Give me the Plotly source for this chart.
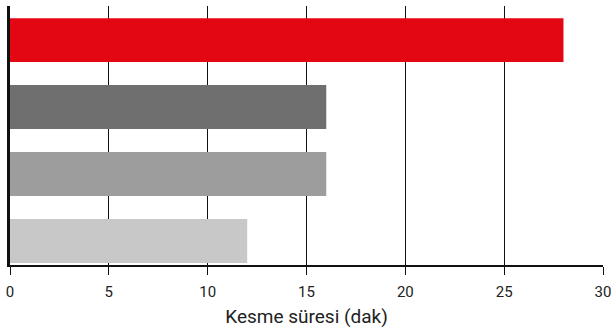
import plotly.graph_objs as go

categories = ['A', 'B', 'C', 'D']
values = [28, 16, 16, 12]
colors = ['#e30613', '#6f6f6f', '#9d9d9d', '#c8c8c8']

data = [go.Bar(y=categories, x=values, orientation='h',
               marker=dict(color=colors, line=dict(width=0)))]

layout = go.Layout(
    width=611, height=331,
    margin=dict(l=10, r=8, t=6, b=66),
    paper_bgcolor='white', plot_bgcolor='white',
    bargap=0.343,
    showlegend=False,
    font=dict(family='Roboto', size=15, color='#222'),
    xaxis=dict(range=[0, 30], dtick=5, tick0=0, automargin=False,
               showgrid=True, gridcolor='#111', gridwidth=1,
               showline=True, linecolor='#111', linewidth=2,
               ticks='outside', ticklen=8, tickcolor='#111', tickwidth=1,
               zeroline=False, tickfont=dict(size=15), ticklabeloverflow='allow',
               ticklabelstandoff=4,
               title=dict(text='Kesme süresi (dak)', font=dict(size=19), standoff=10)),
    yaxis=dict(range=[3.36, -0.51], showticklabels=False, ticks='', automargin=False,
               showgrid=False, showline=True, linecolor='#111', linewidth=3,
               zeroline=False),
)

fig = go.Figure(data=data, layout=layout)
fig.write_html('out.html', config={'displayModeBar': False},
               post_script="document.body.style.margin='0';")
